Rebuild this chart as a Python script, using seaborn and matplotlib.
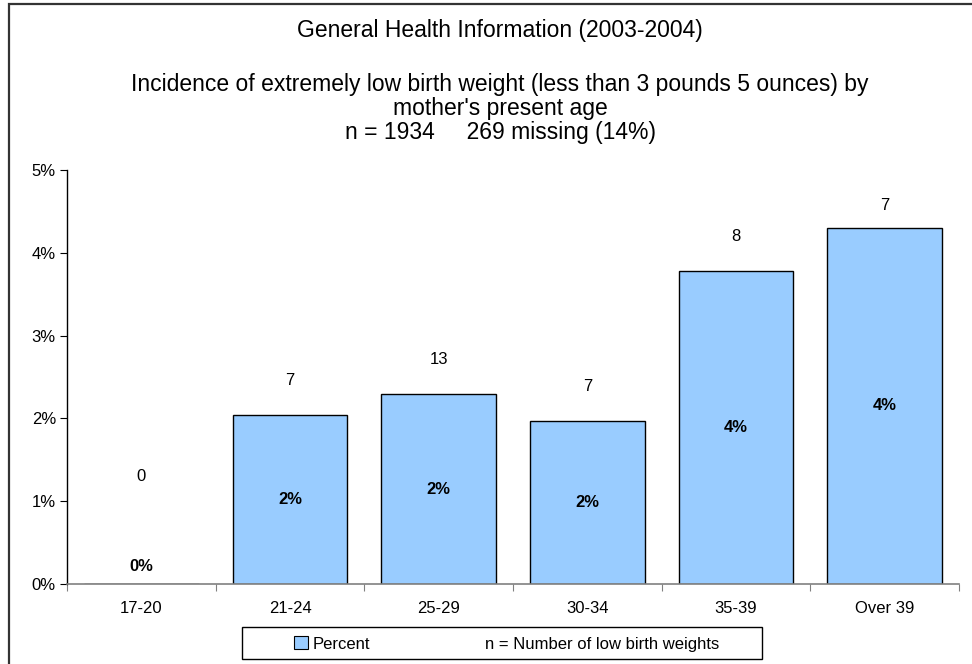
import numpy as np
import pandas as pd
import matplotlib
matplotlib.use('Agg')
import matplotlib.pyplot as plt
import matplotlib.patches as mpatches
from matplotlib.lines import Line2D
from matplotlib.ticker import PercentFormatter, FixedLocator
import seaborn as sns

# Data
age_groups = ['17-20', '21-24', '25-29', '30-34', '35-39', 'Over 39']
percent = [0.0, 2.04, 2.29, 1.97, 3.78, 4.30]
n_low = [0, 7, 13, 7, 8, 7]

df = pd.DataFrame({'age': age_groups, 'percent': percent, 'n': n_low})

sns.set_style('white')
plt.rcParams['font.family'] = ['Liberation Sans', 'DejaVu Sans']
plt.rcParams['text.color'] = 'black'
plt.rcParams['xtick.color'] = 'black'
plt.rcParams['ytick.color'] = 'black'

fig = plt.figure(figsize=(9.72, 6.64), dpi=100)
ax = fig.add_axes([67 / 972, 1 - 584 / 664, (959 - 67) / 972, (584 - 170) / 664])

sns.barplot(data=df, x='age', y='percent', color='#99CCFF', edgecolor='black',
            linewidth=1.0, width=0.77, saturation=1, ax=ax)

ax.set_ylim(0, 5)
ax.set_xlim(-0.5, len(age_groups) - 0.5)
ax.yaxis.set_major_formatter(PercentFormatter(decimals=0))
ax.set_yticks([0, 1, 2, 3, 4, 5])
ax.set_xlabel('')
ax.set_ylabel('')

# x ticks sit between categories, labels centred under bars
ax.xaxis.set_major_locator(FixedLocator(np.arange(-0.5, len(age_groups), 1)))
ax.xaxis.set_major_formatter(plt.NullFormatter())
ax.xaxis.set_minor_locator(FixedLocator(np.arange(len(age_groups))))
ax.set_xticklabels(age_groups, minor=True)
ax.tick_params(axis='x', which='minor', length=0, labelsize=12, pad=12, labelcolor='black')
ax.tick_params(axis='x', which='major', length=5, color='#808080', direction='out', bottom=True)
ax.tick_params(axis='y', length=5, color='black', direction='out', left=True,
               labelsize=12, pad=3, labelcolor='black')

for side in ['top', 'right']:
    ax.spines[side].set_visible(False)
ax.spines['left'].set_color('black')
ax.spines['left'].set_linewidth(1.0)
ax.spines['bottom'].set_color('#808080')
ax.spines['bottom'].set_linewidth(1.2)

# labels: percent in the bar, count above it
n_offset = [1.3, 0.42, 0.42, 0.42, 0.42, 0.27]
for i, (p, n) in enumerate(zip(percent, n_low)):
    if p == 0:
        ax.text(i, 0.12, f'{p:.0f}%', ha='center', va='bottom', fontsize=12, fontweight='bold')
    else:
        ax.text(i, p / 2, f'{round(p):.0f}%', ha='center', va='center', fontsize=12, fontweight='bold')
    ax.text(i, p + n_offset[i], str(n), ha='center', va='center', fontsize=12)

# titles
cx = 500 / 972
tsize = 16.5
fig.text(cx, 1 - 30 / 664, 'General Health Information (2003-2004)', ha='center', va='center', fontsize=tsize)
fig.text(cx, 1 - 84 / 664, 'Incidence of extremely low birth weight (less than 3 pounds 5 ounces) by',
         ha='center', va='center', fontsize=tsize)
fig.text(cx, 1 - 108 / 664, "mother's present age", ha='center', va='center', fontsize=tsize)
fig.text(cx, 1 - 132 / 664, 'n = 1934     269 missing (14%)', ha='center', va='center', fontsize=tsize)

# legend (entries without frame, box drawn separately)
handles = [mpatches.Patch(facecolor='#99CCFF', edgecolor='black', linewidth=0.8),
           Line2D([], [], linestyle='none')]
leg = fig.legend(handles, ['Percent', 'n = Number of low birth weights'], ncol=2,
                 loc='center', bbox_to_anchor=(507 / 972, 1 - 644 / 664), frameon=False,
                 fontsize=12, handlelength=0.8, handleheight=0.8,
                 handletextpad=0.3, columnspacing=5.8, borderpad=0.2)
fig.patches.append(mpatches.Rectangle((242 / 972, 1 - 659 / 664), 520 / 972, 32 / 664,
                                      transform=fig.transFigure, fill=False,
                                      edgecolor='black', linewidth=1.0))

# outer chart border (left and top visible)
fig.patches.append(mpatches.Rectangle((8.5 / 972, -0.1), 1.2, 1.1 - 4.5 / 664,
                                      transform=fig.transFigure, fill=False,
                                      edgecolor='#333333', linewidth=1.6, zorder=0))

fig.savefig('out.png', dpi=100)
